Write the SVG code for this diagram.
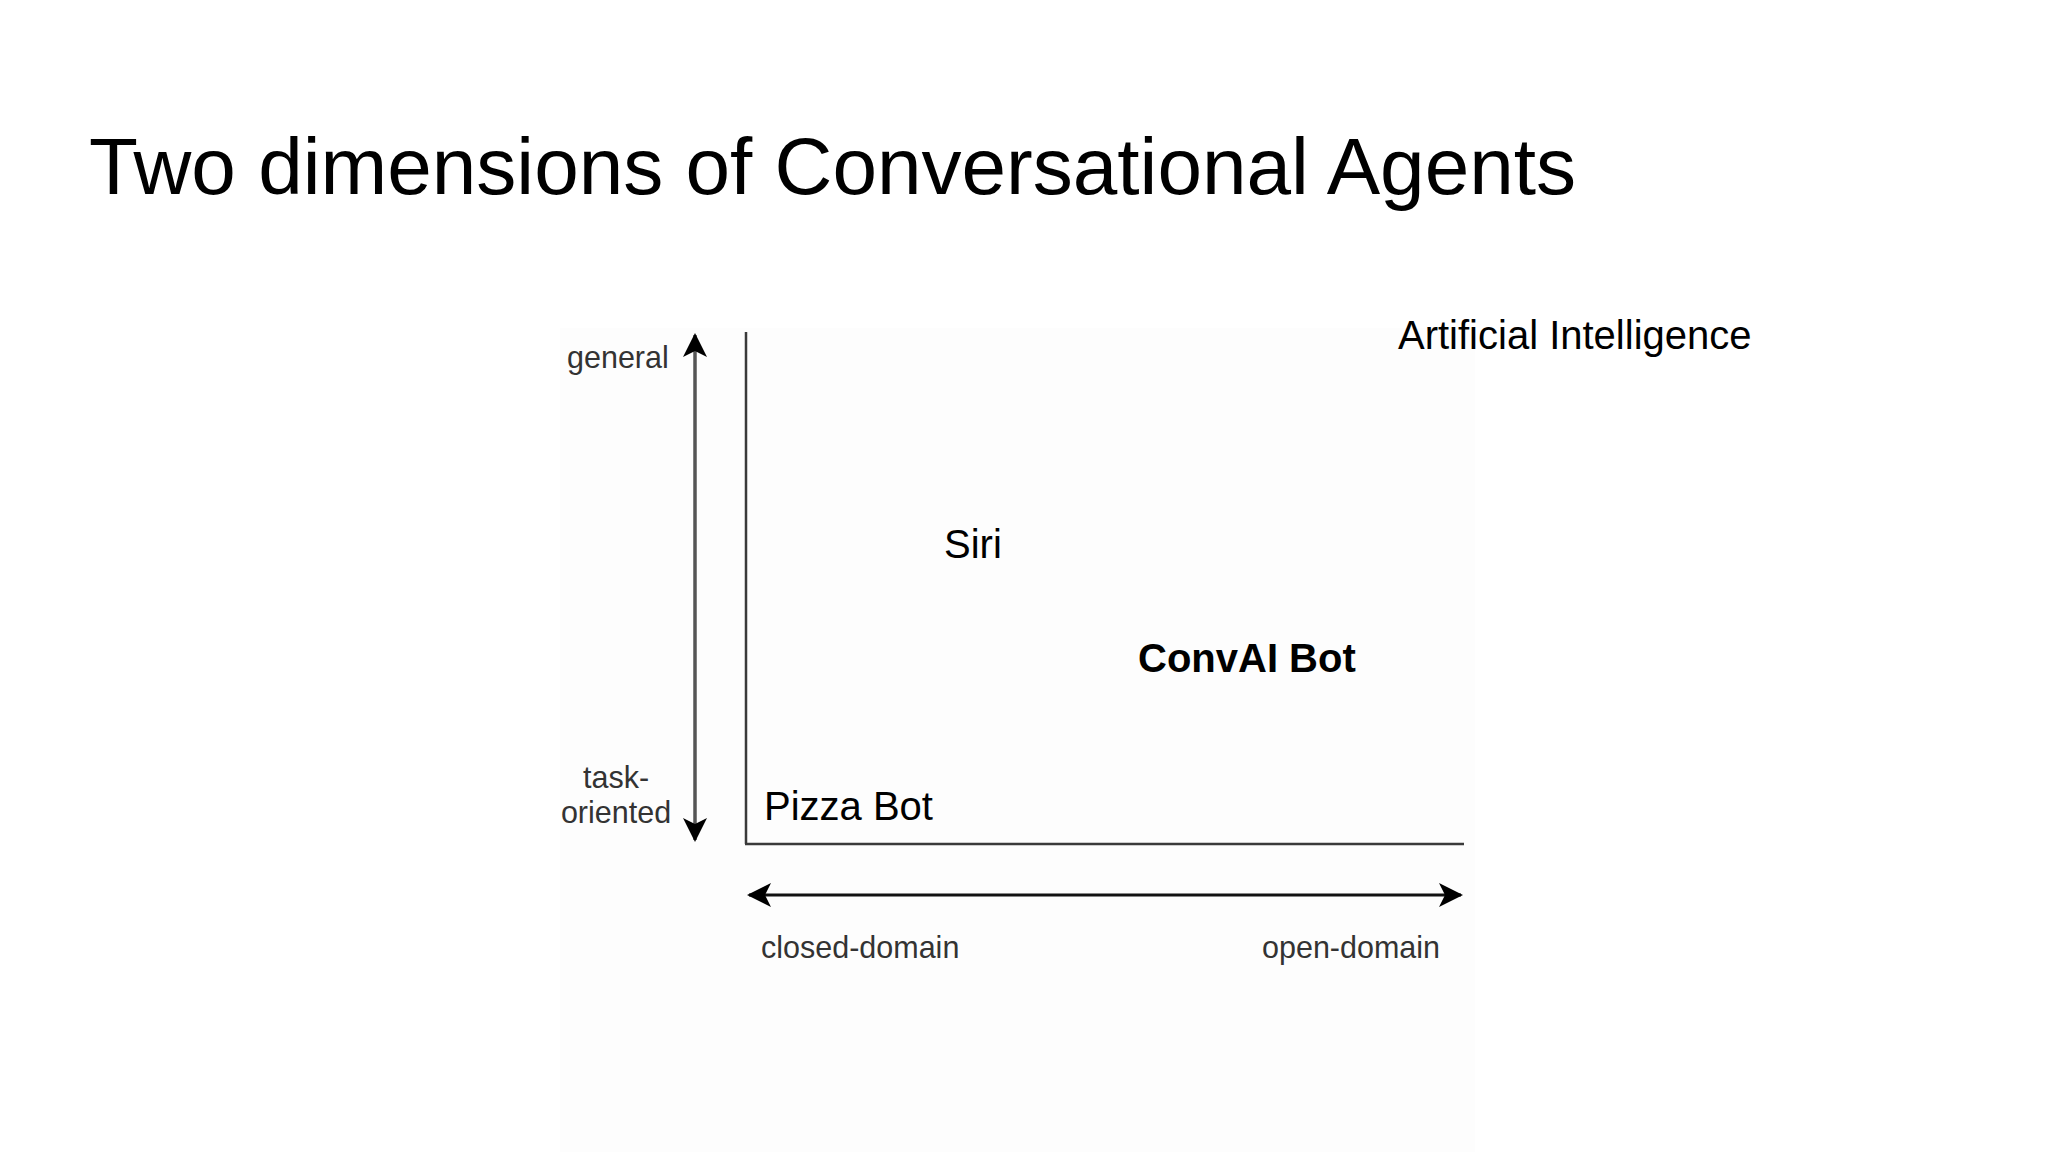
<svg xmlns="http://www.w3.org/2000/svg" width="2048" height="1152" viewBox="0 0 2048 1152">
  <style>
    .title { font-family: "Liberation Sans", Arial, sans-serif; font-size: 80.1px; fill: #000; }
    .lbl { font-family: "Liberation Sans", Arial, sans-serif; font-size: 40px; fill: #000; }
    .bold { font-weight: bold; }
    .axis-lbl { font-family: "Liberation Sans", Arial, sans-serif; font-size: 30.5px; fill: #333; }
    .axis { stroke: #3a3a3a; stroke-width: 2.5; fill: none; }
    .conn { stroke: #111; stroke-width: 3; fill: none; }
    .conn-v { stroke: #555; stroke-width: 3.5; fill: none; }
  </style>
  <defs>
    <marker id="head" viewBox="0 0 24 24" refX="22" refY="12" markerWidth="24" markerHeight="24" markerUnits="userSpaceOnUse" orient="auto-start-reverse">
      <path d="M0,0 L24,12 L0,24 L6,12 Z" fill="#000"/>
    </marker>
  </defs>
  <rect x="0" y="0" width="2048" height="1152" fill="#ffffff"/>
  <rect x="560" y="328" width="915" height="824" fill="#fdfdfd"/>

  <g id="title">
    <text class="title" x="89" y="194">Two dimensions of Conversational Agents</text>
  </g>

  <g id="connectors">
    <line id="axis-y" class="axis" x1="746" y1="332" x2="746" y2="844"/>
    <line id="axis-x" class="axis" x1="745" y1="844" x2="1464" y2="844"/>
    <line id="arrow-v" class="conn-v" x1="695" y1="335" x2="695" y2="840" marker-start="url(#head)" marker-end="url(#head)"/>
    <line id="arrow-h" class="conn" x1="749" y1="895" x2="1461" y2="895" marker-start="url(#head)" marker-end="url(#head)"/>
  </g>

  <g id="label-general">
    <text class="axis-lbl" x="567" y="368">general</text>
  </g>
  <g id="label-task-oriented">
    <text class="axis-lbl" x="616" y="788" text-anchor="middle">task-</text>
    <text class="axis-lbl" x="616" y="823" text-anchor="middle">oriented</text>
  </g>
  <g id="label-closed-domain">
    <text class="axis-lbl" x="761" y="958">closed-domain</text>
  </g>
  <g id="label-open-domain">
    <text class="axis-lbl" x="1262" y="958">open-domain</text>
  </g>

  <g id="node-ai">
    <text class="lbl" x="1398" y="349">Artificial Intelligence</text>
  </g>
  <g id="node-siri">
    <text class="lbl" x="944" y="558">Siri</text>
  </g>
  <g id="node-convai">
    <text class="lbl bold" x="1138" y="672">ConvAI Bot</text>
  </g>
  <g id="node-pizza">
    <text class="lbl" x="764" y="820">Pizza Bot</text>
  </g>
</svg>
